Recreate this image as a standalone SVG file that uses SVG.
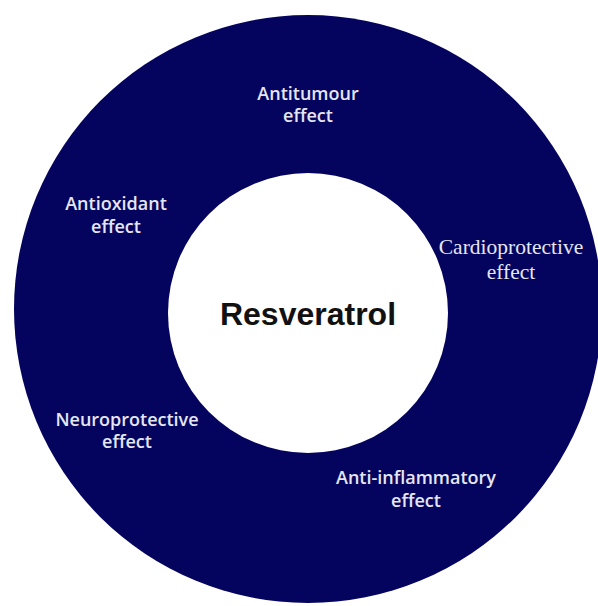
<svg xmlns="http://www.w3.org/2000/svg" width="598" height="606" viewBox="0 0 598 606">
  <style>
    .ring { fill: #04045e; }
    .hole { fill: #ffffff; }
    .lbl { font-family: "Open Sans", "Noto Sans", sans-serif; font-weight: 600; font-size: 18px; fill: #e6e6f2; text-anchor: middle; }
    .lbl-serif { font-family: "Liberation Serif", "Times New Roman", serif; font-size: 21.5px; fill: #e6e6f2; text-anchor: middle; }
    .center { font-family: "Liberation Sans", Arial, sans-serif; font-weight: bold; font-size: 32px; fill: #111111; text-anchor: middle; }
  </style>
  <rect width="598" height="606" fill="#ffffff"/>
  <g id="ring">
    <circle class="ring" cx="308" cy="309" r="294"/>
  </g>
  <g id="resveratrol">
    <circle class="hole" cx="308" cy="313" r="140"/>
    <text class="center" x="308" y="325">Resveratrol</text>
  </g>
  <g id="antitumour">
    <text class="lbl" x="308" y="100">Antitumour</text>
    <text class="lbl" x="308" y="122">effect</text>
  </g>
  <g id="antioxidant">
    <text class="lbl" x="116" y="210">Antioxidant</text>
    <text class="lbl" x="116" y="233">effect</text>
  </g>
  <g id="cardioprotective">
    <text class="lbl-serif" x="511" y="254">Cardioprotective</text>
    <text class="lbl-serif" x="511" y="279">effect</text>
  </g>
  <g id="neuroprotective">
    <text class="lbl" x="127" y="426">Neuroprotective</text>
    <text class="lbl" x="127" y="448">effect</text>
  </g>
  <g id="antiinflammatory">
    <text class="lbl" x="416" y="484">Anti-inflammatory</text>
    <text class="lbl" x="416" y="507">effect</text>
  </g>
  <g id="connectors"></g>
</svg>
